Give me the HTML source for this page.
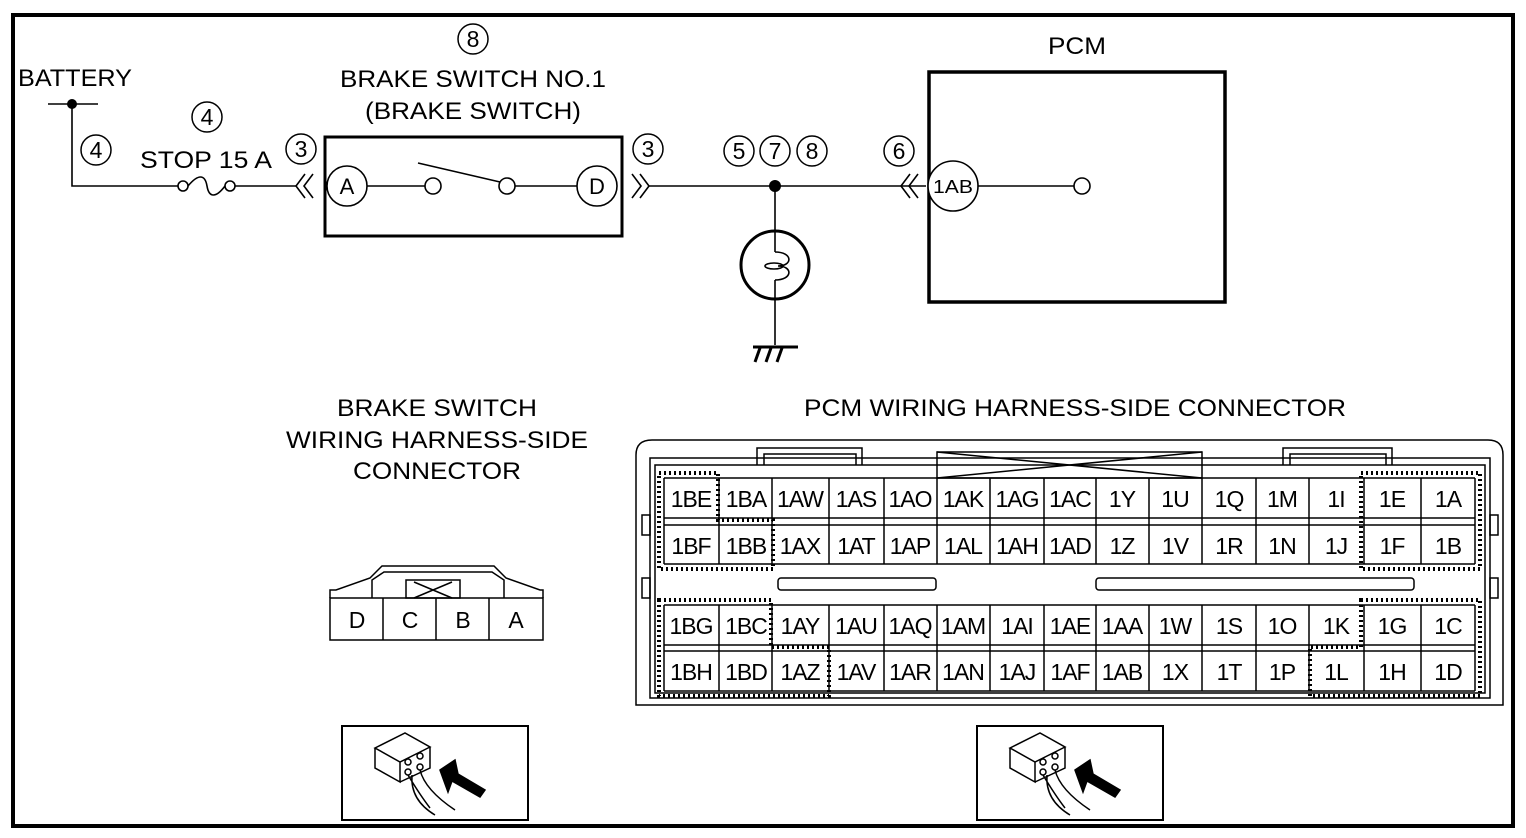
<!DOCTYPE html>
<html><head><meta charset="utf-8"><style>
html,body{margin:0;padding:0;background:#fff;}
svg{display:block;font-family:"Liberation Sans",sans-serif;}
</style></head><body>
<svg width="1526" height="838" viewBox="0 0 1526 838" xmlns="http://www.w3.org/2000/svg">
<rect x="0" y="0" width="1526" height="838" fill="#fff"/>
<rect x="13" y="15" width="1500" height="811" fill="none" stroke="#000" stroke-width="4"/>
<g fill="#000" font-size="24" text-anchor="middle">
<text x="75" y="86" textLength="114" lengthAdjust="spacingAndGlyphs">BATTERY</text>
<text x="473" y="87" textLength="266" lengthAdjust="spacingAndGlyphs">BRAKE SWITCH NO.1</text>
<text x="473" y="119" textLength="216" lengthAdjust="spacingAndGlyphs">(BRAKE SWITCH)</text>
<text x="206" y="168" textLength="132" lengthAdjust="spacingAndGlyphs">STOP 15 A</text>
<text x="1077" y="54" textLength="58" lengthAdjust="spacingAndGlyphs">PCM</text>
<text x="437" y="416" textLength="200" lengthAdjust="spacingAndGlyphs">BRAKE SWITCH</text>
<text x="437" y="448" textLength="302" lengthAdjust="spacingAndGlyphs">WIRING HARNESS-SIDE</text>
<text x="437" y="479" textLength="168" lengthAdjust="spacingAndGlyphs">CONNECTOR</text>
<text x="1075" y="416" textLength="542" lengthAdjust="spacingAndGlyphs">PCM WIRING HARNESS-SIDE CONNECTOR</text>
</g>
<g fill="none" stroke="#000" stroke-width="1.5">
<circle cx="473" cy="39" r="15"/><circle cx="96" cy="150" r="15"/><circle cx="207" cy="117" r="15"/>
<circle cx="301" cy="149" r="15"/><circle cx="648" cy="149" r="15"/>
<circle cx="739" cy="151" r="15"/><circle cx="775" cy="151" r="15"/><circle cx="812" cy="151" r="15"/>
<circle cx="899" cy="151" r="15"/>
</g>
<g fill="#000" font-size="23" text-anchor="middle">
<text x="473" y="47">8</text><text x="96" y="158">4</text><text x="207" y="125">4</text>
<text x="301" y="157">3</text><text x="648" y="157">3</text>
<text x="739" y="159">5</text><text x="775" y="159">7</text><text x="812" y="159">8</text><text x="899" y="159">6</text>
</g>
<g stroke="#000" stroke-width="1.6" fill="none">
<line x1="48" y1="104" x2="98" y2="104"/>
<polyline points="72,104 72,186 178,186"/>
<circle cx="183" cy="186" r="5"/><circle cx="230" cy="186" r="5"/>
<path d="M188,186 C198,174 205,174 207,186 C209,198 216,198 225,186"/>
<line x1="235" y1="186" x2="296" y2="186"/>
<path d="M305,174 L296,186 L305,198 M313,174 L304,186 L313,198"/>
<line x1="367" y1="186" x2="425" y2="186"/>
<circle cx="433" cy="186" r="8"/><circle cx="507" cy="186" r="8"/>
<line x1="418" y1="163" x2="500" y2="182"/>
<line x1="515" y1="186" x2="577" y2="186"/>
<path d="M632,174 L641,186 L632,198 M640,174 L649,186 L640,198"/>
<line x1="649" y1="186" x2="926" y2="186"/>
<path d="M910,174 L901,186 L910,198 M918,174 L909,186 L918,198"/>
<line x1="978" y1="186" x2="1074" y2="186"/>
<circle cx="1082" cy="186" r="8"/>
<line x1="775" y1="186" x2="775" y2="252"/>
<line x1="775" y1="280" x2="775" y2="345"/>
<path d="M775,252 C793,252 793,266 778,266 C793,266 793,280 775,280"/>
<ellipse cx="774" cy="266" rx="9" ry="3"/>
</g>
<circle cx="72" cy="104" r="5" fill="#000"/>
<circle cx="775" cy="186" r="6" fill="#000"/>
<circle cx="775" cy="265" r="34" fill="none" stroke="#000" stroke-width="3"/>
<g stroke="#000" stroke-width="3"><line x1="753" y1="347" x2="798" y2="347"/>
<line x1="760" y1="348" x2="755" y2="362"/><line x1="771" y1="348" x2="766" y2="362"/><line x1="782" y1="348" x2="777" y2="362"/></g>
<rect x="325" y="137" width="297" height="99" fill="none" stroke="#000" stroke-width="3"/>
<rect x="929" y="72" width="296" height="230" fill="none" stroke="#000" stroke-width="3.5"/>
<g fill="#fff" stroke="#000" stroke-width="1.6">
<circle cx="347" cy="186" r="20"/><circle cx="597" cy="186" r="20"/><circle cx="953" cy="186" r="25"/>
</g>
<g font-size="22" text-anchor="middle"><text x="347" y="194">A</text><text x="597" y="194">D</text><text x="953" y="193" font-size="18" textLength="40" lengthAdjust="spacingAndGlyphs">1AB</text></g>
<g fill="none" stroke="#000" stroke-width="1.5">
<path d="M330,598 V590 L336,590 L370,578 L382,566 L494,566 L506,578 L540,590 L543,590 V598"/>
<path d="M372,598 V580 L384,572 L492,572 L504,580 V598"/>
<rect x="406" y="580" width="54" height="18"/>
<path d="M414,582 L452,598 M414,598 L452,582"/>
<rect x="330" y="598" width="213" height="42"/>
<line x1="383" y1="598" x2="383" y2="640"/><line x1="436" y1="598" x2="436" y2="640"/><line x1="489" y1="598" x2="489" y2="640"/>
</g>
<g font-size="23" text-anchor="middle"><text x="357" y="628">D</text><text x="410" y="628">C</text><text x="463" y="628">B</text><text x="516" y="628">A</text></g>
<g id="ic" fill="none" stroke="#000" stroke-width="1.5">
<rect x="342" y="726" width="186" height="94" stroke-width="2"/>
<path d="M375,748 L405,733 L430,747 L400,762 Z M375,748 V768 L400,782 V762 M430,747 V768 L400,782"/>
<circle cx="408" cy="762" r="3"/><circle cx="420" cy="756" r="3"/><circle cx="408" cy="772" r="3"/><circle cx="420" cy="767" r="3"/>
<path d="M408,775 Q420,795 430,808 M420,770 Q425,790 455,810 M412,775 Q410,800 435,815"/>
<path d="M440,770 L455,760 L458,774 L485,790 L480,797 L452,781 L448,792 Z" fill="#000"/>
</g>
<use href="#ic" x="635" y="0"/>
<g fill="none" stroke="#000" stroke-width="1.5">
<path d="M636,705 V455 Q636,440 652,440 H1488 Q1503,440 1503,455 V705 Z"/>
<rect x="650" y="458" width="840" height="240"/>
<rect x="655" y="465" width="830" height="228"/>
<path d="M757,465 V448 H862 V465 M764,465 V454 H856 V465"/>
<path d="M1283,465 V448 H1392 V465 M1290,465 V454 H1386 V465"/>
<rect x="937" y="452" width="265" height="26"/>
<path d="M937,452 L1202,478 M937,478 L1202,452"/>
<rect x="778" y="578" width="158" height="12" rx="3"/>
<rect x="1096" y="578" width="318" height="12" rx="3"/>
<rect x="642" y="515" width="8" height="20"/><rect x="1490" y="515" width="8" height="20"/>
<rect x="642" y="578" width="8" height="20"/><rect x="1490" y="578" width="8" height="20"/>
<path d="M664,478 H1475 M664,518 H1475 M664,525 H1475 M664,564 H1475 M664,605 H1475 M664,645 H1475 M664,651 H1475 M664,691 H1475"/>
<path d="M664,478 V564 M719,478 V564 M772,478 V564 M829,478 V564 M884,478 V564 M937,478 V564 M990,478 V564 M1044,478 V564 M1096,478 V564 M1149,478 V564 M1202,478 V564 M1256,478 V564 M1309,478 V564 M1364,478 V564 M1421,478 V564 M1475,478 V564"/>
<path d="M664,605 V691 M719,605 V691 M772,605 V691 M829,605 V691 M884,605 V691 M937,605 V691 M990,605 V691 M1044,605 V691 M1096,605 V691 M1149,605 V691 M1202,605 V691 M1256,605 V691 M1309,605 V691 M1364,605 V691 M1421,605 V691 M1475,605 V691"/>
</g>
<g fill="none" stroke="#000" stroke-width="4" stroke-dasharray="2,3">
<path d="M659,473 H718 V520 H773 V569 H659 Z"/>
<path d="M1361,473 H1480 V569 H1361 Z"/>
<path d="M659,600 H771 V647 H829 V696 H659 Z"/>
<path d="M1361,600 H1480 V696 H1310 V647 H1361 Z"/>
</g>
<g font-size="23" text-anchor="middle" fill="#000" letter-spacing="-1">
<text y="507"><tspan x="691">1BE</tspan><tspan x="746">1BA</tspan><tspan x="800">1AW</tspan><tspan x="856">1AS</tspan><tspan x="910">1AO</tspan><tspan x="963">1AK</tspan><tspan x="1017">1AG</tspan><tspan x="1070">1AC</tspan><tspan x="1122">1Y</tspan><tspan x="1175">1U</tspan><tspan x="1229">1Q</tspan><tspan x="1282">1M</tspan><tspan x="1336">1I</tspan><tspan x="1392">1E</tspan><tspan x="1448">1A</tspan></text>
<text y="554"><tspan x="691">1BF</tspan><tspan x="746">1BB</tspan><tspan x="800">1AX</tspan><tspan x="856">1AT</tspan><tspan x="910">1AP</tspan><tspan x="963">1AL</tspan><tspan x="1017">1AH</tspan><tspan x="1070">1AD</tspan><tspan x="1122">1Z</tspan><tspan x="1175">1V</tspan><tspan x="1229">1R</tspan><tspan x="1282">1N</tspan><tspan x="1336">1J</tspan><tspan x="1392">1F</tspan><tspan x="1448">1B</tspan></text>
<text y="634"><tspan x="691">1BG</tspan><tspan x="746">1BC</tspan><tspan x="800">1AY</tspan><tspan x="856">1AU</tspan><tspan x="910">1AQ</tspan><tspan x="963">1AM</tspan><tspan x="1017">1AI</tspan><tspan x="1070">1AE</tspan><tspan x="1122">1AA</tspan><tspan x="1175">1W</tspan><tspan x="1229">1S</tspan><tspan x="1282">1O</tspan><tspan x="1336">1K</tspan><tspan x="1392">1G</tspan><tspan x="1448">1C</tspan></text>
<text y="680"><tspan x="691">1BH</tspan><tspan x="746">1BD</tspan><tspan x="800">1AZ</tspan><tspan x="856">1AV</tspan><tspan x="910">1AR</tspan><tspan x="963">1AN</tspan><tspan x="1017">1AJ</tspan><tspan x="1070">1AF</tspan><tspan x="1122">1AB</tspan><tspan x="1175">1X</tspan><tspan x="1229">1T</tspan><tspan x="1282">1P</tspan><tspan x="1336">1L</tspan><tspan x="1392">1H</tspan><tspan x="1448">1D</tspan></text>
</g>
</svg>
</body></html>
